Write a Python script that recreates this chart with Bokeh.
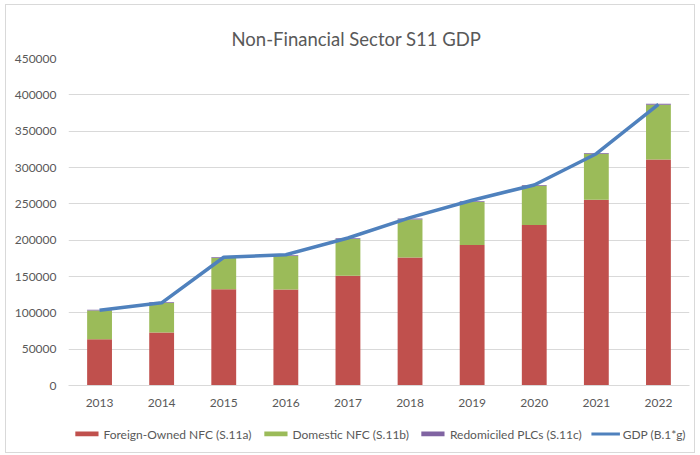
from bokeh.plotting import figure
from bokeh.layouts import column
from bokeh.models import ColumnDataSource, Legend, LegendItem, SingleIntervalTicker, BasicTickFormatter, Range1d
from bokeh.embed import file_html
from bokeh.resources import INLINE

years = ["2013", "2014", "2015", "2016", "2017", "2018", "2019", "2020", "2021", "2022"]
foreign = [63700, 72900, 132300, 132000, 151000, 176000, 193500, 221000, 255500, 311000]
domestic = [39500, 40500, 43100, 46100, 50500, 52600, 58900, 53800, 63300, 75400]
redomiciled = [1200, 1200, 1200, 1200, 1200, 1200, 1200, 1200, 1200, 1200]
gdp = [103500, 113800, 176500, 180000, 203000, 231000, 255000, 276000, 319000, 387000]
series_labels = ["Foreign-Owned NFC (S.11a)", "Domestic NFC (S.11b)", "Redomiciled PLCs (S.11c)", "GDP (B.1*g)"]
bar_colors = ["#C0504D", "#9BBB59", "#8064A2"]
line_color = "#4F81BD"

TXT = "#595959"
FONT = "Lato"

src = ColumnDataSource(dict(years=years, foreign=foreign, domestic=domestic,
                            redomiciled=redomiciled, gdp=gdp))

p = figure(x_range=years, y_range=Range1d(0, 450000), width=688, height=410,
           output_backend="svg", toolbar_location=None,
           title="Non-Financial Sector S11 GDP",
           min_border_left=62, min_border_right=5, min_border_top=53, min_border_bottom=30)

p.title.align = "left"
p.title.offset = 163
p.title.text_font = FONT
p.title.text_font_size = "18.5px"
p.title.text_font_style = "normal"
p.title.text_color = TXT
p.title.standoff = 18

stack = p.vbar_stack(["foreign", "domestic", "redomiciled"], x="years", width=0.4,
                     color=bar_colors, source=src, line_width=0)
ln = p.line(x="years", y="gdp", source=src, line_color=line_color, line_width=3.5,
            line_join="round")

p.yaxis.ticker = SingleIntervalTicker(interval=50000)
p.yaxis.formatter = BasicTickFormatter(use_scientific=False)
p.yaxis.axis_line_color = None
p.yaxis.major_tick_line_color = None
p.yaxis.minor_tick_line_color = None
p.yaxis.major_label_standoff = 6
p.xaxis.axis_line_color = "#d9d9d9"
p.xaxis.axis_line_width = 1
p.xaxis.major_tick_line_color = None
p.xaxis.minor_tick_line_color = None
p.xaxis.major_label_standoff = 7
for ax in (p.xaxis[0], p.yaxis[0]):
    ax.major_label_text_font = FONT
    ax.major_label_text_font_size = "12px"
    ax.major_label_text_color = TXT

p.xgrid.grid_line_color = None
p.ygrid.grid_line_color = "#d9d9d9"
p.ygrid.grid_line_width = 1
p.outline_line_color = None
p.x_range.range_padding = 0

# legend strip (separate small canvas below the chart); proxies sit outside its range
p2 = figure(width=688, height=37, x_range=Range1d(0, 1), y_range=Range1d(0, 1),
            output_backend="svg", toolbar_location=None,
            min_border_left=0, min_border_right=0, min_border_top=0, min_border_bottom=0,
            x_axis_type=None, y_axis_type=None)
p2.outline_line_color = None
p2.xgrid.visible = False
p2.ygrid.visible = False
proxy = ColumnDataSource(dict(x=[-5, -6], top=[-5, -6]))
swatches = [p2.vbar(x="x", top="top", bottom=-7, width=0.1, color=c, source=proxy, line_width=0)
            for c in bar_colors]
lsw = p2.line(x="x", y="top", source=proxy, line_color=line_color, line_width=3)

legend = Legend(items=[LegendItem(label=lab, renderers=[r])
                       for lab, r in zip(series_labels, swatches + [lsw])],
                orientation="horizontal", location="center", border_line_color=None,
                background_fill_alpha=0, label_text_font=FONT, label_text_font_size="12px",
                label_text_color=TXT, glyph_width=29, glyph_height=6, spacing=9,
                label_standoff=3, padding=0, margin=0)
p2.add_layout(legend, "center")

layout = column(p, p2, spacing=0)
layout.styles = {"margin": "4px 0px 0px 5px", "border": "1px solid #d9d9d9"}

open("out.html", "w").write(file_html(layout, INLINE))
